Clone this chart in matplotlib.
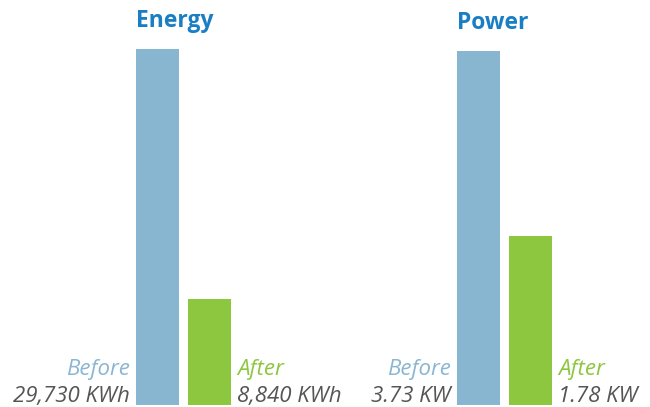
import matplotlib
matplotlib.use("Agg")
import matplotlib.pyplot as plt

panels = ["Energy", "Power"]
categories = ["Before", "After"]
energy_values = [29730, 8840]
power_values = [3.73, 1.78]
energy_labels = ["29,730 KWh", "8,840 KWh"]
power_labels = ["3.73 KW", "1.78 KW"]

W, H = 650, 407
fig = plt.figure(figsize=(W / 100, H / 100), dpi=100)

bar_colors = ["#88b5d0", "#8dc63f"]
label_colors = ["#8ab6d2", "#8dc63f"]
value_color = "#555555"
title_color = "#1a7ec4"
font = "Open Sans"

# axes boxes in pixels: left, right, top, bottom
boxes = [(136, 231, 49, 405), (457, 552, 51, 405)]
data = [energy_values, power_values]
labels = [energy_labels, power_labels]

width = 43 / 52
for title, (l, r, t, b), vals, labs in zip(panels, boxes, data, labels):
    ax = fig.add_axes([l / W, (H - b) / H, (r - l) / W, (b - t) / H])
    x = list(range(len(categories)))
    ax.bar(x, vals, width=width, color=bar_colors)
    ax.set_xlim(-width / 2, len(categories) - 1 + width / 2)
    ax.set_ylim(0, max(vals))
    ax.axis("off")
    ax.annotate(title, xy=(-width / 2, 1.0), xycoords=("data", "axes fraction"),
                xytext=(0, 15.5), textcoords="offset points",
                fontsize=16.5, fontweight="bold", color=title_color, family=font,
                ha="left", va="baseline", annotation_clip=False)
    for i, (cat, lab) in enumerate(zip(categories, labs)):
        if i == 0:
            xe, dx, ha = x[i] - width / 2, -4.5, "right"
        else:
            xe, dx, ha = x[i] + width / 2, 4.5, "left"
        ax.annotate(cat, xy=(xe, 0), xytext=(dx, 21.5), textcoords="offset points",
                    fontsize=16, style="italic", color=label_colors[i], family=font,
                    ha=ha, va="baseline", annotation_clip=False)
        ax.annotate(lab, xy=(xe, 0), xytext=(dx, 2.2), textcoords="offset points",
                    fontsize=16, style="italic", color=value_color, family=font,
                    ha=ha, va="baseline", annotation_clip=False)

fig.savefig("out.png", dpi=100)
